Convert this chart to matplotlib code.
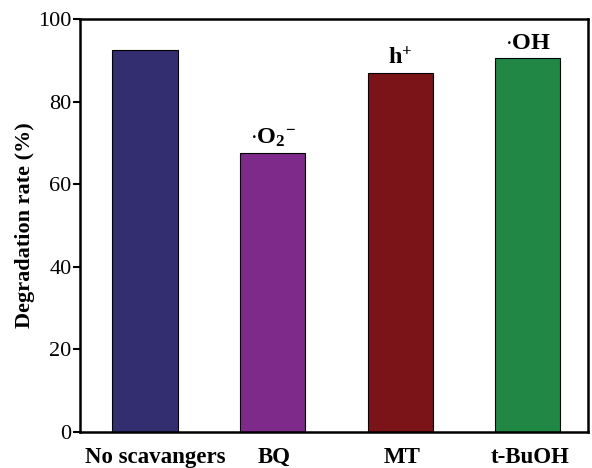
import matplotlib
matplotlib.use("Agg")
import matplotlib.pyplot as plt
import matplotlib.transforms as mtransforms

categories = ["No scavangers", "BQ", "MT", "t-BuOH"]
values = [92.5, 67.5, 86.9, 90.6]
annotations = ["", r"$\mathbf{\cdot O_{2}{}^{-}}$", r"$\mathbf{h^{+}}$", r"$\mathbf{\cdot OH}$"]
colors = ["#332E6F", "#7D2A8B", "#7A1418", "#218744"]
yticks = [0, 20, 40, 60, 80, 100]

plt.rcParams["font.family"] = ["Liberation Serif", "DejaVu Serif"]
plt.rcParams["mathtext.fontset"] = "custom"
plt.rcParams["mathtext.rm"] = "Liberation Serif"
plt.rcParams["mathtext.bf"] = "Liberation Serif:bold"
plt.rcParams["mathtext.it"] = "Liberation Serif:italic"

fig = plt.figure(figsize=(5.92, 4.68), dpi=100)
ax = fig.add_axes([0.135, 0.077, 0.858, 0.882])

x = range(len(categories))
bars = ax.bar(x, values, width=0.51, color=colors, edgecolor="black", linewidth=0.8)
for xi, v, a in zip(x, values, annotations):
    if a:
        ax.text(xi, v + 1.0, a, ha="center", va="bottom", fontsize=17.5, fontweight="bold")

ax.set_xlim(-0.51, 3.47)
ax.set_ylim(0, 100)
ax.set_yticks(yticks)
ax.set_xticks(list(x))
ax.set_xticklabels(categories, fontsize=16.5, fontweight="bold")
ax.tick_params(axis="x", length=0, pad=11)
ax.tick_params(axis="y", direction="out", length=5, width=1.5, labelsize=16, pad=1)
for i, lbl in enumerate(ax.get_xticklabels()):
    dx = 10 if i == 0 else 2
    lbl.set_transform(lbl.get_transform() + mtransforms.ScaledTranslation(dx / 100, 0, fig.dpi_scale_trans))
for s in ax.spines.values():
    s.set_linewidth(1.8)
ax.set_ylabel("Degradation rate (%)", fontsize=16, fontweight="bold", labelpad=2)

fig.savefig("out.png", dpi=100)
